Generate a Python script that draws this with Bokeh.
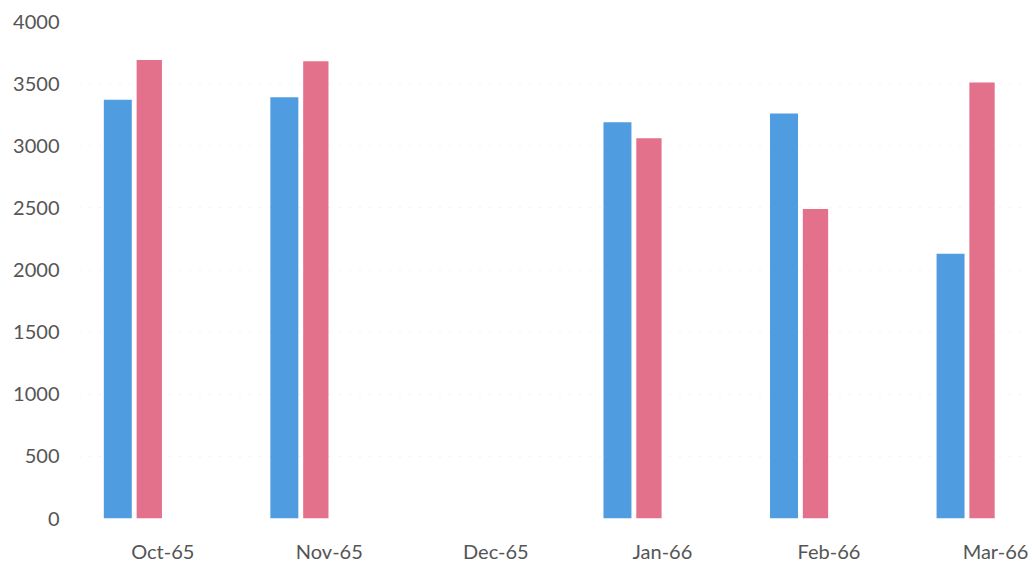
from bokeh.plotting import figure
from bokeh.models import Range1d, FixedTicker, ColumnDataSource
from bokeh.embed import file_html
from bokeh.resources import INLINE

months = ["Oct-65", "Nov-65", "Dec-65", "Jan-66", "Feb-66", "Mar-66"]
series_a = [3370, 3390, 0, 3190, 3260, 2130]
series_b = [3690, 3680, 0, 3060, 2490, 3510]
y_ticks = [0, 500, 1000, 1500, 2000, 2500, 3000, 3500, 4000]

pos = [i + 0.5 for i in range(len(months))]
src = ColumnDataSource(dict(
    xa=[p - 0.27 for p in pos],
    xb=[p - 0.081 for p in pos],
    a=series_a, b=series_b,
))

p = figure(width=1030, height=565, output_backend="svg", toolbar_location=None,
           x_range=Range1d(0, 5.71), y_range=Range1d(0, 4000),
           min_border_left=79, min_border_right=0, min_border_top=21, min_border_bottom=47)
p.outline_line_color = None
p.background_fill_color = "white"

p.vbar(x="xa", top="a", width=0.168, bottom=0, source=src, color="#4f9de0", line_color=None)
p.vbar(x="xb", top="b", width=0.152, bottom=0, source=src, color="#e4718b", line_color=None)

p.xaxis.ticker = FixedTicker(ticks=pos)
p.xaxis.major_label_overrides = {pv: m for pv, m in zip(pos, months)}
p.yaxis.ticker = FixedTicker(ticks=y_ticks)

for ax in (p.xaxis, p.yaxis):
    ax.axis_line_color = None
    ax.major_tick_line_color = None
    ax.minor_tick_line_color = None
    ax.major_label_text_font = "Lato"
    ax.major_label_text_font_size = "20px"
    ax.major_label_text_color = "#555555"
p.xaxis.major_label_standoff = 14
p.yaxis.major_label_standoff = 14

p.xgrid.grid_line_color = None
p.ygrid.grid_line_color = "#e4e4e4"
p.ygrid.grid_line_dash = "1 9"

open("out.html", "w").write(file_html(p, INLINE))
